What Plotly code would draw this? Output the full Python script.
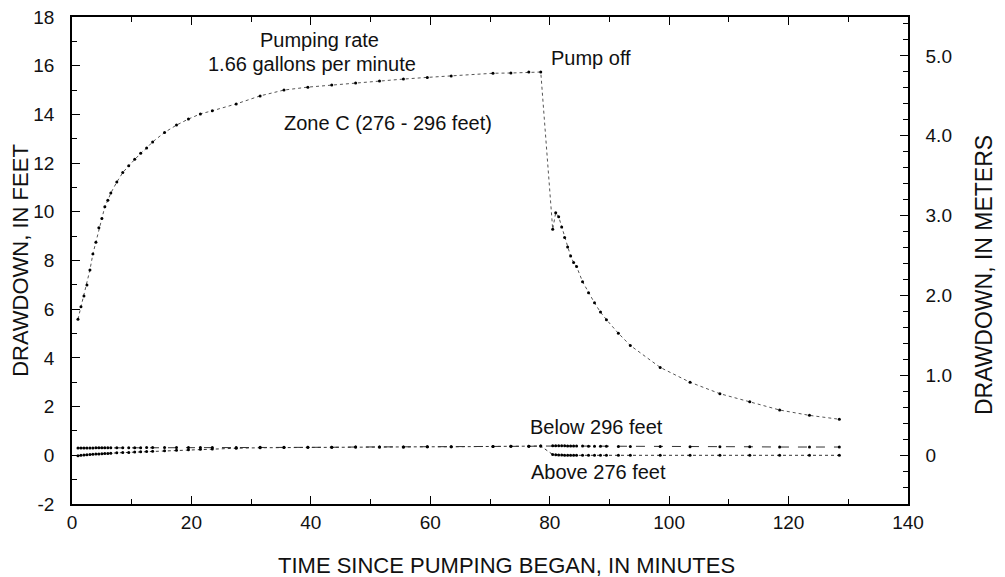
import plotly.graph_objects as go

# ---- data ----
time_min = [1, 1.5, 2, 2.5, 3, 3.5, 4, 4.5, 5, 5.5, 6, 6.5,
            7.5, 8.5, 9.5, 10.5, 11.5, 12.5, 13.5,
            15.5, 17.5, 19.5, 21.5, 23.5,
            27.5, 31.5, 35.5, 39.5, 43.5, 47.5, 51.5, 55.5, 59.5, 63.5,
            70.5, 73.5, 76.5, 78.5,
            80.5, 81, 81.5, 82, 82.5, 83, 83.5, 84, 84.5,
            85.5, 86.5, 87.5, 88.5, 89.5,
            91.5, 93.5,
            98.5, 103.5, 108.5, 113.5, 118.5, 123.5, 128.5]

zone_c_ft = [5.59, 6.10, 6.54, 6.99, 7.61, 8.27, 8.75, 9.35, 9.72, 10.21, 10.47, 10.77,
             11.22, 11.61, 11.89, 12.16, 12.40, 12.62, 12.87,
             13.26, 13.56, 13.81, 14.02, 14.15,
             14.43, 14.76, 15.00, 15.12, 15.21, 15.29, 15.37, 15.45, 15.52, 15.58,
             15.69, 15.70, 15.74, 15.74,
             9.28, 9.96, 9.80, 9.38, 8.94, 8.55, 8.18, 7.92, 7.75,
             7.13, 6.68, 6.26, 5.88, 5.57,
             5.01, 4.51,
             3.61, 3.00, 2.53, 2.20, 1.86, 1.64, 1.48]

below_296_ft = [0.30, 0.30, 0.30, 0.30, 0.30, 0.30, 0.31, 0.31, 0.31, 0.31, 0.31, 0.31,
                0.31, 0.31, 0.31, 0.31, 0.31, 0.32, 0.32,
                0.32, 0.32, 0.32, 0.32, 0.32,
                0.32, 0.33, 0.33, 0.33, 0.33, 0.34, 0.34, 0.34, 0.35, 0.35,
                0.36, 0.37, 0.37, 0.38,
                0.39, 0.39, 0.39, 0.39, 0.39, 0.38, 0.38, 0.38, 0.38,
                0.38, 0.37, 0.37, 0.37, 0.37,
                0.36, 0.36,
                0.36, 0.35, 0.35, 0.35, 0.34, 0.34, 0.34]

above_276_ft = [-0.02, 0.00, 0.01, 0.02, 0.03, 0.04, 0.05, 0.05, 0.06, 0.07, 0.07, 0.08,
                0.10, 0.11, 0.12, 0.14, 0.15, 0.16, 0.17,
                0.19, 0.21, 0.23, 0.25, 0.26,
                0.29, 0.31, 0.32, 0.33, 0.33, 0.34, 0.34, 0.34, 0.35, 0.35,
                0.36, 0.37, 0.37, 0.38,
                0.03, 0.02, 0.01, 0.01, 0.00, 0.00, 0.00, 0.00, 0.00,
                0.00, 0.00, 0.00, 0.00, 0.00,
                0.00, 0.00,
                0.00, 0.00, 0.00, 0.00, 0.00, 0.00, 0.00]

feet_ticks = [-2, 0, 2, 4, 6, 8, 10, 12, 14, 16, 18]
feet_labels = ["-2", "0", "2", "4", "6", "8", "10", "12", "14", "16", "18"]

FT_PER_M = 3.2808
meter_ticks = [0, 1, 2, 3, 4, 5]
meter_labels = ["0", "1.0", "2.0", "3.0", "4.0", "5.0"]

FONT = "Liberation Sans, Arial, Helvetica, sans-serif"

fig = go.Figure()

fig.add_trace(go.Scatter(
    x=time_min, y=below_296_ft, mode="lines+markers",
    line=dict(color="#333333", width=1, dash="dash"),
    marker=dict(color="black", size=3), showlegend=False))
fig.add_trace(go.Scatter(
    x=time_min, y=above_276_ft, mode="lines+markers",
    line=dict(color="#333333", width=1, dash="dot"),
    marker=dict(color="black", size=3), showlegend=False))
fig.add_trace(go.Scatter(
    x=time_min, y=zone_c_ft, mode="lines+markers",
    line=dict(color="#555555", width=1, dash="dot"),
    marker=dict(color="black", size=3), showlegend=False))

# invisible trace for the meters axis
fig.add_trace(go.Scatter(x=[None], y=[None], yaxis="y2", showlegend=False, hoverinfo="skip"))

annots = [
    ("Pumping rate", 41.5, 17.06),
    ("1.66 gallons per minute", 40.2, 16.07),
    ("Pump off", 86.9, 16.32),
    ("Zone C (276 - 296 feet)", 52.9, 13.65),
    ("Below 296 feet", 87.9, 1.16),
    ("Above 276 feet", 88.1, -0.69),
]
for txt, ax_, ay_ in annots:
    fig.add_annotation(x=ax_, y=ay_, text=txt, showarrow=False,
                       font=dict(family=FONT, size=20, color="#111111"))

# axis titles placed as in the reference
fig.add_annotation(xref="paper", yref="paper", x=0.5203, y=-0.1253,
                   text="TIME SINCE PUMPING BEGAN, IN MINUTES", showarrow=False,
                   xanchor="center", yanchor="middle",
                   font=dict(family=FONT, size=22, color="#111111"))
fig.add_annotation(xref="paper", yref="paper", x=1.091, y=0.4702,
                   text="DRAWDOWN, IN METERS", showarrow=False, textangle=-90,
                   xanchor="center", yanchor="middle",
                   font=dict(family=FONT, size=23, color="#111111"))

fig.update_layout(
    width=1005, height=577,
    margin=dict(l=64, r=105, t=9, b=81),
    paper_bgcolor="white", plot_bgcolor="white",
    font=dict(family=FONT, size=19, color="#111111"),
    xaxis=dict(
        range=[0, 140], tick0=0, dtick=20, showgrid=False, zeroline=False,
        showline=True, linecolor="black", linewidth=1.5, mirror="ticks",
        ticks="inside", ticklen=8, tickcolor="black", tickwidth=1,
        minor=dict(tickmode="linear", tick0=0, dtick=10, ticks="inside", ticklen=5, tickcolor="black"),
        tickfont=dict(size=19), automargin=False, ticklabeloverflow="allow",
    ),
    yaxis=dict(
        range=[-2, 18], tickmode="array", tickvals=feet_ticks, ticktext=feet_labels,
        showgrid=False, zeroline=False,
        showline=True, linecolor="black", linewidth=1.5, mirror=False,
        ticks="inside", ticklen=8, tickcolor="black", tickwidth=1,
        minor=dict(tickmode="linear", tick0=0, dtick=1, ticks="inside", ticklen=5, tickcolor="black"),
        tickfont=dict(size=19), ticklabelstandoff=12, automargin=False,
        ticklabeloverflow="allow",
        title=dict(text="DRAWDOWN, IN FEET", font=dict(size=22), standoff=8),
    ),
    yaxis2=dict(
        overlaying="y", side="right",
        range=[-2 / FT_PER_M, 18 / FT_PER_M],
        tickmode="array", tickvals=meter_ticks, ticktext=meter_labels,
        showgrid=False, zeroline=False,
        showline=True, linecolor="black", linewidth=1.5,
        ticks="inside", ticklen=8, tickcolor="black", tickwidth=1,
        minor=dict(tickmode="linear", tick0=0, dtick=0.2, ticks="inside", ticklen=5, tickcolor="black"),
        tickfont=dict(size=19), ticklabelstandoff=12, automargin=False,
        ticklabeloverflow="allow",
    ),
)

fig.write_html("out.html")
